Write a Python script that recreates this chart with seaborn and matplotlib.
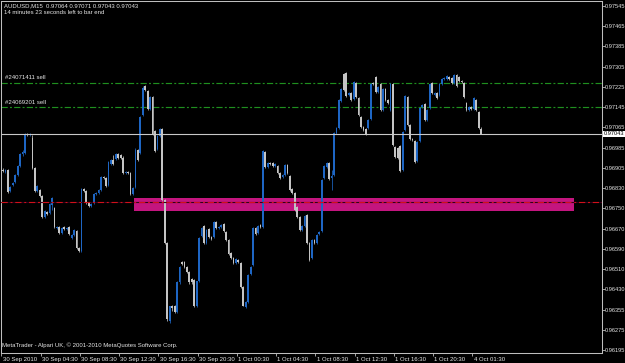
import numpy as np
import pandas as pd
import matplotlib
matplotlib.use("Agg")
import matplotlib.pyplot as plt
import matplotlib.transforms as mtransforms
import seaborn as sns

# ---------------- data ----------------
header_text = "AUDUSD,M15  0.97064 0.97071 0.97043 0.97043"
timer_text = "14 minutes 23 seconds left to bar end"
footer_text = "MetaTrader - Alpari UK, \u00a9 2001-2010 MetaQuotes Software Corp."

opens = [
    0.96903, 0.96895, 0.96903, 0.96820, 0.96844, 0.96856, 0.96883, 0.96918, 0.96965, 0.96969,
    0.97044, 0.97040, 0.97028, 0.96910, 0.96820, 0.96824, 0.96801, 0.96718, 0.96738, 0.96734,
    0.96765, 0.96754, 0.96675, 0.96679, 0.96656, 0.96679, 0.96671, 0.96679, 0.96636, 0.96648,
    0.96663, 0.96597, 0.96585, 0.96828, 0.96820, 0.96773, 0.96761, 0.96773, 0.96809, 0.96812,
    0.96824, 0.96875, 0.96871, 0.96844, 0.96926, 0.96941, 0.96945, 0.96965, 0.96961, 0.96950,
    0.96891, 0.96895, 0.96891, 0.96809, 0.96836, 0.96981, 0.96969, 0.97118, 0.97232, 0.97212,
    0.97142, 0.97189, 0.97055, 0.96985, 0.97036, 0.97063, 0.96785, 0.96616, 0.96307, 0.96366,
    0.96369, 0.96346, 0.96460, 0.96542, 0.96542, 0.96522, 0.96503, 0.96475, 0.96471, 0.96366,
    0.96464, 0.96644, 0.96683, 0.96616, 0.96671, 0.96640, 0.96640, 0.96699, 0.96675, 0.96679,
    0.96691, 0.96660, 0.96628, 0.96577, 0.96558, 0.96538, 0.96550, 0.96538, 0.96444, 0.96362,
    0.96385, 0.96495, 0.96530, 0.96675, 0.96656, 0.96687, 0.96679, 0.96973, 0.96914, 0.96930,
    0.96930, 0.96918, 0.96918, 0.96891, 0.96875, 0.96883, 0.96922, 0.96879, 0.96828, 0.96812,
    0.96758, 0.96718, 0.96667, 0.96683, 0.96726, 0.96616, 0.96558, 0.96628, 0.96616, 0.96652,
    0.96663, 0.96871, 0.96914, 0.96930, 0.96871, 0.96883, 0.97048, 0.97067, 0.97173, 0.97279,
    0.97283, 0.97197, 0.97204, 0.97181, 0.97244, 0.97185, 0.97110, 0.97071, 0.97063, 0.97067,
    0.97103, 0.97244, 0.97267, 0.97208, 0.97240, 0.97138, 0.97220, 0.97177, 0.97138, 0.97240,
    0.96993, 0.96989, 0.96997, 0.96903, 0.97059, 0.97189, 0.97079, 0.97024, 0.97016, 0.96938,
    0.97016, 0.97150, 0.97161, 0.97099, 0.97146, 0.97244, 0.97197, 0.97204, 0.97197, 0.97240,
    0.97259, 0.97259, 0.97267, 0.97263, 0.97244, 0.97275, 0.97267, 0.97251, 0.97244, 0.97165,
    0.97138, 0.97150, 0.97142, 0.97177, 0.97130, 0.97064,
]
highs = [
    0.96910, 0.96907, 0.96907, 0.96840, 0.96856, 0.96887, 0.96922, 0.96969, 0.96981, 0.97048,
    0.97048, 0.97048, 0.97040, 0.96914, 0.96844, 0.96828, 0.96805, 0.96746, 0.96742, 0.96773,
    0.96797, 0.96758, 0.96683, 0.96683, 0.96679, 0.96683, 0.96679, 0.96683, 0.96652, 0.96671,
    0.96667, 0.96601, 0.96832, 0.96832, 0.96824, 0.96777, 0.96773, 0.96812, 0.96816, 0.96828,
    0.96879, 0.96879, 0.96875, 0.96938, 0.96945, 0.96961, 0.96969, 0.96969, 0.96965, 0.96957,
    0.96899, 0.96899, 0.96895, 0.96836, 0.96989, 0.96985, 0.97114, 0.97232, 0.97236, 0.97216,
    0.97193, 0.97193, 0.97059, 0.97040, 0.97067, 0.97067, 0.96789, 0.96620, 0.96369, 0.96373,
    0.96373, 0.96464, 0.96526, 0.96546, 0.96546, 0.96526, 0.96507, 0.96479, 0.96475, 0.96467,
    0.96640, 0.96679, 0.96687, 0.96671, 0.96675, 0.96644, 0.96703, 0.96703, 0.96683, 0.96691,
    0.96695, 0.96663, 0.96632, 0.96581, 0.96562, 0.96558, 0.96554, 0.96542, 0.96448, 0.96389,
    0.96495, 0.96526, 0.96679, 0.96679, 0.96687, 0.96691, 0.96981, 0.96977, 0.96934, 0.96934,
    0.96934, 0.96930, 0.96922, 0.96895, 0.96887, 0.96926, 0.96926, 0.96883, 0.96832, 0.96816,
    0.96761, 0.96722, 0.96687, 0.96726, 0.96730, 0.96620, 0.96632, 0.96632, 0.96652, 0.96663,
    0.96867, 0.96922, 0.96934, 0.96934, 0.96903, 0.97052, 0.97071, 0.97181, 0.97224, 0.97283,
    0.97287, 0.97208, 0.97208, 0.97251, 0.97248, 0.97189, 0.97114, 0.97075, 0.97067, 0.97103,
    0.97244, 0.97248, 0.97271, 0.97232, 0.97244, 0.97224, 0.97224, 0.97181, 0.97244, 0.97244,
    0.96997, 0.96993, 0.97001, 0.97055, 0.97197, 0.97193, 0.97083, 0.97028, 0.97020, 0.97016,
    0.97150, 0.97161, 0.97165, 0.97142, 0.97244, 0.97248, 0.97208, 0.97208, 0.97244, 0.97263,
    0.97267, 0.97275, 0.97271, 0.97267, 0.97279, 0.97279, 0.97271, 0.97255, 0.97248, 0.97169,
    0.97153, 0.97153, 0.97189, 0.97181, 0.97134, 0.97071,
]
lows = [
    0.96895, 0.96891, 0.96812, 0.96816, 0.96840, 0.96852, 0.96879, 0.96914, 0.96957, 0.96965,
    0.97036, 0.97036, 0.96907, 0.96816, 0.96816, 0.96797, 0.96714, 0.96714, 0.96726, 0.96730,
    0.96746, 0.96675, 0.96671, 0.96652, 0.96652, 0.96667, 0.96667, 0.96648, 0.96632, 0.96644,
    0.96593, 0.96581, 0.96581, 0.96816, 0.96769, 0.96758, 0.96758, 0.96769, 0.96805, 0.96809,
    0.96820, 0.96867, 0.96836, 0.96840, 0.96922, 0.96922, 0.96941, 0.96945, 0.96945, 0.96887,
    0.96887, 0.96887, 0.96805, 0.96805, 0.96832, 0.96938, 0.96965, 0.97114, 0.97212, 0.97138,
    0.97138, 0.97040, 0.96973, 0.96981, 0.97032, 0.96781, 0.96613, 0.96307, 0.96303, 0.96350,
    0.96342, 0.96342, 0.96456, 0.96530, 0.96518, 0.96499, 0.96456, 0.96456, 0.96362, 0.96362,
    0.96460, 0.96640, 0.96613, 0.96613, 0.96636, 0.96628, 0.96636, 0.96671, 0.96671, 0.96675,
    0.96660, 0.96624, 0.96569, 0.96554, 0.96534, 0.96534, 0.96538, 0.96440, 0.96366, 0.96358,
    0.96381, 0.96491, 0.96526, 0.96648, 0.96652, 0.96675, 0.96675, 0.96910, 0.96910, 0.96922,
    0.96914, 0.96914, 0.96887, 0.96867, 0.96871, 0.96879, 0.96887, 0.96820, 0.96809, 0.96742,
    0.96714, 0.96663, 0.96663, 0.96679, 0.96613, 0.96546, 0.96554, 0.96613, 0.96613, 0.96648,
    0.96660, 0.96867, 0.96910, 0.96863, 0.96824, 0.96879, 0.97044, 0.97063, 0.97169, 0.97212,
    0.97189, 0.97193, 0.97173, 0.97177, 0.97185, 0.97114, 0.97067, 0.97055, 0.97040, 0.97063,
    0.97099, 0.97236, 0.97204, 0.97204, 0.97134, 0.97134, 0.97173, 0.97161, 0.97134, 0.96997,
    0.96950, 0.96945, 0.96895, 0.96899, 0.97055, 0.97075, 0.97020, 0.97016, 0.96930, 0.96934,
    0.97012, 0.97146, 0.97095, 0.97095, 0.97142, 0.97201, 0.97193, 0.97181, 0.97193, 0.97236,
    0.97255, 0.97255, 0.97255, 0.97240, 0.97240, 0.97228, 0.97248, 0.97244, 0.97185, 0.97134,
    0.97134, 0.97138, 0.97138, 0.97134, 0.97063, 0.97043,
]
closes = [
    0.96899, 0.96903, 0.96816, 0.96836, 0.96852, 0.96883, 0.96918, 0.96965, 0.96973, 0.97040,
    0.97040, 0.97044, 0.96910, 0.96820, 0.96840, 0.96801, 0.96718, 0.96742, 0.96730, 0.96769,
    0.96793, 0.96679, 0.96679, 0.96656, 0.96675, 0.96671, 0.96675, 0.96652, 0.96648, 0.96667,
    0.96597, 0.96585, 0.96828, 0.96820, 0.96773, 0.96761, 0.96769, 0.96809, 0.96812, 0.96824,
    0.96875, 0.96871, 0.96840, 0.96934, 0.96941, 0.96926, 0.96965, 0.96950, 0.96950, 0.96891,
    0.96895, 0.96891, 0.96809, 0.96832, 0.96981, 0.96941, 0.97110, 0.97224, 0.97216, 0.97142,
    0.97189, 0.97044, 0.96977, 0.97036, 0.97063, 0.96785, 0.96616, 0.96315, 0.96366, 0.96358,
    0.96346, 0.96460, 0.96522, 0.96534, 0.96522, 0.96503, 0.96460, 0.96460, 0.96366, 0.96464,
    0.96636, 0.96675, 0.96616, 0.96667, 0.96640, 0.96632, 0.96699, 0.96675, 0.96679, 0.96687,
    0.96663, 0.96628, 0.96573, 0.96558, 0.96538, 0.96554, 0.96542, 0.96444, 0.96369, 0.96385,
    0.96491, 0.96522, 0.96675, 0.96652, 0.96683, 0.96679, 0.96977, 0.96914, 0.96930, 0.96926,
    0.96918, 0.96926, 0.96891, 0.96871, 0.96883, 0.96922, 0.96891, 0.96824, 0.96812, 0.96746,
    0.96718, 0.96667, 0.96683, 0.96722, 0.96616, 0.96550, 0.96628, 0.96616, 0.96648, 0.96660,
    0.96863, 0.96918, 0.96930, 0.96867, 0.96879, 0.97048, 0.97067, 0.97177, 0.97220, 0.97216,
    0.97193, 0.97204, 0.97177, 0.97248, 0.97189, 0.97118, 0.97071, 0.97059, 0.97044, 0.97099,
    0.97240, 0.97240, 0.97208, 0.97228, 0.97138, 0.97220, 0.97177, 0.97165, 0.97240, 0.97001,
    0.96954, 0.96950, 0.96899, 0.97052, 0.97193, 0.97079, 0.97024, 0.97020, 0.96934, 0.97012,
    0.97146, 0.97157, 0.97099, 0.97138, 0.97240, 0.97204, 0.97204, 0.97185, 0.97240, 0.97259,
    0.97263, 0.97271, 0.97259, 0.97244, 0.97275, 0.97232, 0.97251, 0.97248, 0.97189, 0.97138,
    0.97150, 0.97142, 0.97185, 0.97138, 0.97067, 0.97043,
]

xtick_labels = ["30 Sep 2010", "30 Sep 04:30", "30 Sep 08:30", "30 Sep 12:30",
                "30 Sep 16:30", "30 Sep 20:30", "1 Oct 00:30", "1 Oct 04:30",
                "1 Oct 08:30", "1 Oct 12:30", "1 Oct 16:30", "1 Oct 20:30",
                "4 Oct 01:30"]
xtick_bars = [0, 16, 32, 48, 64, 80, 96, 112, 128, 144, 160, 176, 192]

ytick_labels = ["0.97545", "0.97465", "0.97385", "0.97305", "0.97225", "0.97145",
                "0.97065", "0.96985", "0.96905", "0.96830", "0.96750", "0.96670",
                "0.96590", "0.96510", "0.96430", "0.96355", "0.96275", "0.96195"]

order_levels = [0.97244, 0.97147]
order_labels = ["#24071411 sell", "#24069201 sell"]
bid_price = 0.97043
red_level = 0.96775
zone_bars = [53.6, 232.9]
zone_prices = [0.96742, 0.96793]

assert len(opens) == len(highs) == len(lows) == len(closes)

df = pd.DataFrame({"bar": np.arange(len(opens)), "open": opens, "high": highs,
                   "low": lows, "close": closes})
df["bull"] = df["close"] > df["open"]

# ---------------- style ----------------
BG = "#000000"
FG = "#E6E6E6"
FRAME = "#BEBEBE"
BULL = "#1E66C4"
BEAR = "#C4C4C4"

sns.set_theme(style="dark", rc={"axes.facecolor": BG, "figure.facecolor": BG,
                                "axes.grid": False})
plt.rcParams["font.family"] = ["Liberation Sans", "DejaVu Sans"]
plt.rcParams["lines.scale_dashes"] = False
FS = 4.3
FS_Y = 4.05

W, H = 625, 363
fig = plt.figure(figsize=(W / 100, H / 100), dpi=100, facecolor=BG)
ax = fig.add_axes([1.5 / W, 1 - 352.6 / H, 600.2 / W, 351.6 / H])
ax.set_facecolor(BG)
ax.grid(False)

# axis ranges
ax.set_xlim(-0.407, 244.17)
ax.set_ylim(0.961849, 0.975646)

# zone rectangle (behind candles)
ax.fill_between(zone_bars, zone_prices[0], zone_prices[1], color="#C4157F",
                linewidth=0, zorder=1)

# order lines
for lvl, lab in zip(order_levels, order_labels):
    ax.axhline(lvl, color="#1F8F1F", lw=0.85, ls=(0, (4.5, 1.6, 1.4, 1.6)), zorder=2)
    ax.text(0.006, lvl + 0.00009, lab, transform=mtransforms.blended_transform_factory(
        ax.transAxes, ax.transData), color=FG, fontsize=FS, va="bottom", ha="left",
        zorder=6)

# candles
cols = np.where(df["bull"], BULL, BEAR)
ax.vlines(df["bar"], df["low"], df["high"], colors=cols, linewidth=0.55, zorder=3)
body_lo = np.minimum(df["open"], df["close"])
body_h = np.maximum(np.abs(df["close"] - df["open"]), 0.00003)
ax.bar(df["bar"], body_h, bottom=body_lo, width=0.72, color=cols, linewidth=0,
       zorder=4)

# bid line
ax.axhline(bid_price, color="#C8C8C8", lw=0.8, zorder=5)

# red level (gap colour drawn underneath)
ax.axhline(red_level, color="#30001C", lw=0.8, zorder=5)
ax.axhline(red_level, color="#D0101A", lw=0.8, ls=(0, (4.5, 2.0, 1.4, 2.0)), zorder=5)

# y axis on the right
ax.set_yticks(np.linspace(0.97545, 0.96195, len(ytick_labels)))
ax.set_yticklabels(ytick_labels)
ax.yaxis.tick_right()
ax.tick_params(axis="y", which="both", right=True, left=False, labelright=True,
               labelleft=False, length=1.8, width=0.6, color=FRAME, pad=0.7,
               labelsize=FS_Y, labelcolor=FG)

# x axis
ax.set_xticks(np.array(xtick_bars) - 0.6)
ax.set_xticklabels(xtick_labels)
ax.tick_params(axis="x", which="both", bottom=True, top=False, length=2.0, width=0.6,
               color=FRAME, pad=1.0, labelsize=FS, labelcolor=FG)
offset = mtransforms.ScaledTranslation(1.2 / 100, 0, fig.dpi_scale_trans)
for lbl in ax.get_xticklabels():
    lbl.set_horizontalalignment("left")
    lbl.set_transform(lbl.get_transform() + offset)

for sp in ax.spines.values():
    sp.set_visible(True)
    sp.set_color(FRAME)
    sp.set_linewidth(0.75)

# current price box
ax.text(1.003, bid_price, "0.97043",
        transform=mtransforms.blended_transform_factory(ax.transAxes, ax.transData),
        ha="left", va="center", color="black", fontsize=FS_Y, clip_on=False, zorder=10,
        bbox=dict(boxstyle="square,pad=0.15", fc="white", ec="none"))

# texts
fig.text(4 / W, 1 - 5.5 / H, header_text, color=FG, fontsize=FS, va="center", ha="left")
fig.text(4 / W, 1 - 12.5 / H, timer_text, color=FG, fontsize=FS, va="center", ha="left")
fig.text(2.5 / W, 1 - 345 / H, footer_text, color=FG, fontsize=FS, va="center", ha="left")

fig.savefig("out.png", dpi=100, facecolor=BG)
